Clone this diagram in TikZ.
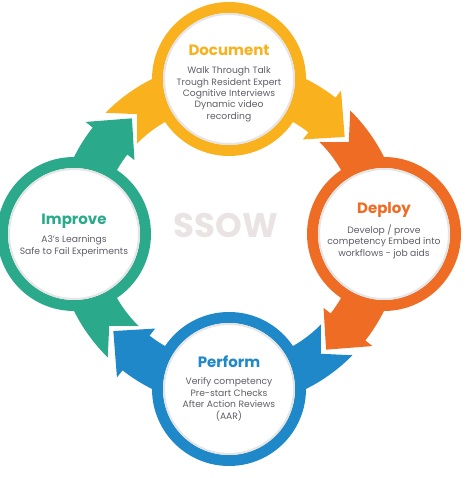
\documentclass[tikz,border=0pt]{standalone}
\usepackage{fontspec}
\setmainfont{Poppins}
\usetikzlibrary{calc,positioning,shadows}
\definecolor{docyellow}{HTML}{F9B11E}
\definecolor{deporange}{HTML}{EE6C24}
\definecolor{perfblue}{HTML}{1E88C9}
\definecolor{impgreen}{HTML}{2BA98B}
\definecolor{bodygrey}{HTML}{5E5E68}
\definecolor{ssowgrey}{HTML}{EAE3E3}
\tikzstyle{ring}=[circle, minimum size=143pt, inner sep=0pt, line width=11pt, fill=white, draw=#1,
 drop shadow={opacity=.12, shadow xshift=0pt, shadow yshift=-2pt}]
\tikzstyle{title}=[inner sep=0pt, text height=11pt, text depth=3pt, font=\fontsize{15}{18}\selectfont\bfseries]
\tikzstyle{bodytext}=[inner sep=0pt, align=center, text=bodygrey, font=\fontsize{9.2}{11.4}\selectfont]
% band of the cycle, from the notch behind the last head to its own head
\newcommand{\cyclearrow}[2]{
 \fill[#1] (#2+45.5:173) arc[start angle=#2+45.5, end angle=#2-38, radius=173] -- (#2-38:182)
  -- (#2-50:151) -- (#2-38:120) -- (#2-38:129) arc[start angle=#2-38, end angle=#2+45.5, radius=129]
  -- (#2+37.5:151) -- cycle;
}
\newcommand{\stage}[6]{
 \node[ring=#2] (#1) at (#3:155) {};
 \draw[black!10, line width=2pt] (#1.center) circle (65);
 \node[title, text=#2] (#1-title) at ($(#1)+(0,#6)$) {#4};
 \node[bodytext, below=7.5pt of #1-title] (#1-text) {#5};
}

\begin{document}
\begin{tikzpicture}[x=1pt, y=1pt]
 \useasboundingbox (-229,-244) rectangle (245,234);
%
 \cyclearrow{docyellow}{90}
 \cyclearrow{deporange}{0}
 \cyclearrow{perfblue}{-90}
 \cyclearrow{impgreen}{180}
%
 \node[text=ssowgrey, font=\fontsize{34}{38}\selectfont\bfseries] (ssow) at (-3,8) {SSOW};
%
 \stage{document}{docyellow}{90}{Document}{Walk Through Talk\\Trough Resident Expert\\Cognitive Interviews\\Dynamic video\\recording}{27}
 \stage{deploy}{deporange}{0}{Deploy}{Develop / prove\\competency Embed into\\workflows - job aids}{24}
 \stage{perform}{perfblue}{-90}{Perform}{Verify competency\\Pre-start Checks\\After Action Reviews\\(AAR)}{26}
 \stage{improve}{impgreen}{180}{Improve}{A3's Learnings\\Safe to Fail Experiments}{13}
\end{tikzpicture}
\end{document}
